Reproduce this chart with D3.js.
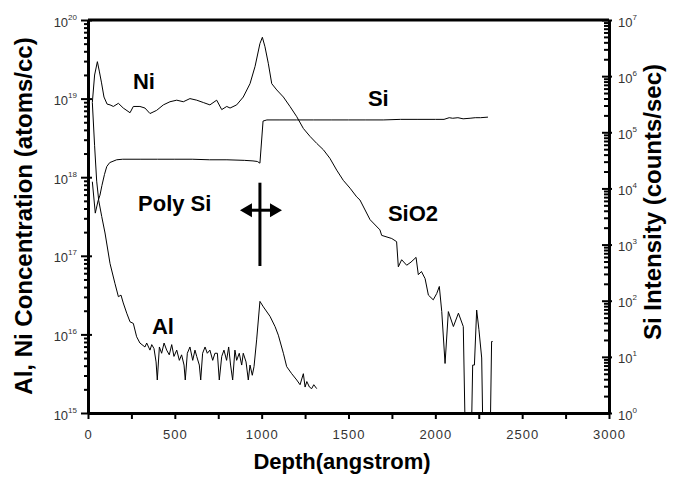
<!DOCTYPE html>
<html>
<head>
<meta charset="utf-8">
<script src="https://cdn.jsdelivr.net/npm/d3@7"></script>
<style>
  body { margin: 0; background: #fff; }
  svg { display: block; font-family: "Liberation Sans", Arial, sans-serif; }
</style>
</head>
<body>
<svg id="chart" width="674" height="477"></svg>
<script>
// depth in angstrom, concentrations / intensities stored as log10 values
// null = zero counts (drawn on the axis floor)
const niDepth = [25, 38, 54, 65, 78, 92, 110, 127, 146, 175, 203, 242, 261, 299, 328, 357, 395, 434, 472, 511,
  549, 587, 626, 664, 702, 741, 770, 799, 818, 856, 894, 933, 962, 990, 1004, 1019, 1038, 1058, 1087, 1125,
  1163, 1202, 1240, 1278, 1317, 1355, 1393, 1432, 1470, 1509, 1547, 1566, 1624, 1681, 1691, 1749, 1777, 1787,
  1806, 1835, 1860, 1889, 1902, 1920, 1941, 1960, 1988, 2008, 2023, 2037, 2056, 2075, 2104, 2133, 2161, 2170,
  2190, 2210, 2215, 2225, 2238, 2251, 2267, 2272, 2300, 2318, 2324, 2330];
const niLog = [18.95, 19.3, 19.47, 19.35, 19.2, 19.02, 18.93, 18.92, 18.90, 18.94, 18.88, 18.82, 18.90, 18.90,
  18.88, 18.81, 18.85, 18.92, 18.96, 18.98, 18.96, 19.00, 18.98, 18.95, 18.92, 18.98, 18.86, 18.90, 18.88, 18.92,
  19.02, 19.19, 19.41, 19.70, 19.78, 19.66, 19.45, 19.19, 19.11, 19.02, 18.90, 18.77, 18.62, 18.52, 18.43, 18.35,
  18.24, 18.09, 17.96, 17.86, 17.75, 17.71, 17.46, 17.33, 17.26, 17.22, 17.18, 16.86, 16.95, 16.88, 16.92, 16.98,
  16.76, 16.80, 16.71, 16.50, 16.44, 16.52, 16.61, 16.29, 15.63, 16.29, 16.10, 16.27, 16.10, null,
  null, null, 15.61, 15.61, 16.31, 16.06, 15.70, null, null, null, 15.91, 15.91];

const alDepth = [25, 38, 50, 62, 79, 98, 127, 155, 175, 190, 203, 223, 242, 261, 280, 299, 328, 338, 357, 367,
  380, 392, 399, 411, 424, 438, 453, 468, 482, 495, 511, 526, 539, 553, 560, 572, 587, 603, 616, 626, 641, 649,
  660, 674, 687, 702, 718, 731, 745, 756, 770, 783, 798, 810, 821, 833, 846, 856, 871, 885, 894, 910, 923, 933,
  946, 956, 971, 990, 1010, 1048, 1077, 1096, 1125, 1144, 1173, 1202, 1221, 1240, 1250, 1260, 1275, 1288, 1300, 1317];
const alLog = [18.95, 18.4, 17.95, 17.7, 17.5, 17.29, 16.90, 16.65, 16.48, 16.50, 16.40, 16.27, 16.16, 16.14,
  15.97, 15.89, 15.84, 15.89, 15.80, 15.87, 15.82, 15.65, 15.42, 15.84, 15.76, 15.89, 15.80, 15.74, 15.87, 15.72,
  15.80, 15.67, 15.74, 15.61, 15.42, 15.76, 15.84, 15.67, 15.80, 15.72, 15.61, 15.42, 15.76, 15.84, 15.76, 15.80,
  15.67, 15.76, 15.76, 15.42, 15.72, 15.80, 15.67, 15.84, 15.61, 15.42, 15.80, 15.67, 15.76, 15.61, 15.76, 15.65,
  15.42, 15.61, 15.48, 15.59, 15.93, 16.42, 16.35, 16.23, 16.10, 15.99, 15.76, 15.59, 15.50, 15.42, 15.36, 15.50,
  15.33, 15.40, 15.33, 15.31, 15.36, 15.31];

const siDepth = [25, 42, 58, 69, 80, 95, 108, 125, 165, 200, 300, 400, 500, 600, 700, 800, 900, 950, 975, 990,
  1008, 1030, 1100, 1200, 1300, 1400, 1500, 1600, 1700, 1800, 1900, 2000, 2050, 2080, 2100, 2130, 2160, 2200,
  2230, 2260, 2303];
const siLog = [4.12, 3.56, 3.78, 3.88, 4.05, 4.25, 4.39, 4.46, 4.51, 4.52, 4.52, 4.52, 4.52, 4.52, 4.51, 4.51,
  4.50, 4.49, 4.48, 4.45, 5.20, 5.22, 5.22, 5.22, 5.22, 5.22, 5.22, 5.22, 5.22, 5.23, 5.23, 5.23, 5.23, 5.26,
  5.25, 5.26, 5.24, 5.25, 5.26, 5.26, 5.27];

const leftDecades = [15, 16, 17, 18, 19, 20];
const rightDecades = [0, 1, 2, 3, 4, 5, 6, 7];
const depthTicks = d3.range(0, 3001, 250);

const svg = d3.select('#chart');
const x = d3.scaleLinear().domain([0, 3000]).range([88, 609]);
const yL = d3.scaleLog().domain([1e15, 1e20]).range([413, 20]);
const yR = d3.scaleLog().domain([1, 1e7]).range([413, 20]);

const pairs = (xs, ys) => xs.map((d, i) => [d, ys[i]]);
const leftLine = d3.line()
  .x((d) => x(d[0]))
  .y((d) => (d[1] == null ? yL.range()[0] : yL(10 ** d[1])));
const rightLine = d3.line()
  .x((d) => x(d[0]))
  .y((d) => yR(10 ** d[1]));

const curves = svg.append('g')
  .attr('fill', 'none')
  .attr('stroke', '#000')
  .attr('stroke-width', 1)
  .attr('stroke-linejoin', 'round');
curves.append('path').attr('d', leftLine(pairs(alDepth, alLog)));
curves.append('path').attr('d', leftLine(pairs(niDepth, niLog)));
curves.append('path').attr('d', rightLine(pairs(siDepth, siLog)));

// minor tick values for log axes
const minorsOf = (decades) => decades.slice(0, -1)
  .flatMap((e) => d3.range(2, 10).map((m) => m * 10 ** e));

const supLabels = (g, size) => {
  g.selectAll('.tick text')
    .attr('dy', 6)
    .attr('fill', '#333')
    .attr('font-size', 13)
    .text(null)
    .call((t) => t.append('tspan').text('10'))
    .append('tspan')
    .attr('dy', -7)
    .attr('font-size', size)
    .text((d) => Math.round(Math.log10(d)));
};

// left axis
svg.append('g')
  .attr('transform', `translate(${x(0)},0)`)
  .call(d3.axisLeft(yL).tickValues(minorsOf(leftDecades)).tickSize(4).tickFormat(''))
  .call((g) => g.select('.domain').remove())
  .call((g) => g.selectAll('.tick line').attr('stroke-width', 2));
svg.append('g')
  .attr('transform', `translate(${x(0)},0)`)
  .call(d3.axisLeft(yL).tickValues(leftDecades.map((e) => 10 ** e)).tickSize(7).tickPadding(4).tickSizeOuter(0))
  .call((g) => g.select('.domain').attr('stroke-width', 3))
  .call((g) => g.selectAll('.tick line').attr('x2', 4).attr('x1', -7).attr('stroke-width', 2))
  .call((g) => supLabels(g, 8));

// right axis
svg.append('g')
  .attr('transform', `translate(${x(3000)},0)`)
  .call(d3.axisRight(yR).tickValues(minorsOf(rightDecades)).tickSize(-5).tickFormat(''))
  .call((g) => g.select('.domain').remove())
  .call((g) => g.selectAll('.tick line').attr('stroke-width', 2));
svg.append('g')
  .attr('transform', `translate(${x(3000)},0)`)
  .call(d3.axisRight(yR).tickValues(rightDecades.map((e) => 10 ** e)).tickSize(-7).tickPadding(9).tickSizeOuter(0))
  .call((g) => g.select('.domain').attr('stroke-width', 3))
  .call((g) => g.selectAll('.tick line').attr('x1', 3).attr('stroke-width', 2))
  .call((g) => supLabels(g, 8));

// bottom axis
svg.append('g')
  .attr('transform', `translate(0,${yL.range()[0]})`)
  .call(d3.axisBottom(x).tickValues(depthTicks).tickSize(6).tickSizeOuter(0)
    .tickFormat((d) => (d % 500 === 0 ? d : '')))
  .call((g) => g.select('.domain').attr('stroke-width', 3))
  .call((g) => g.selectAll('.tick line').attr('stroke-width', 2))
  .call((g) => g.selectAll('.tick text')
    .attr('y', 17)
    .attr('fill', '#333')
    .attr('font-size', 13)
    .attr('letter-spacing', 1));

// top frame line
svg.append('line')
  .attr('x1', x.range()[0]).attr('x2', x.range()[1])
  .attr('y1', yL.range()[1]).attr('y2', yL.range()[1])
  .attr('stroke', '#000').attr('stroke-width', 3);

// axis titles
svg.append('text')
  .attr('x', 342).attr('y', 469)
  .attr('text-anchor', 'middle')
  .attr('font-size', 22).attr('font-weight', 'bold')
  .text('Depth(angstrom)');
svg.append('text')
  .attr('transform', 'translate(32,216) rotate(-90)')
  .attr('text-anchor', 'middle')
  .attr('font-size', 24).attr('font-weight', 'bold')
  .text('Al, Ni Concentration (atoms/cc)');
svg.append('text')
  .attr('transform', 'translate(661,202) rotate(-90)')
  .attr('text-anchor', 'middle')
  .attr('font-size', 24).attr('font-weight', 'bold')
  .text('Si Intensity (counts/sec)');

// in-plot labels (depth, log10 concentration of baseline)
const notes = [
  ['Ni', 259, 19.12],
  ['Si', 1612, 18.91],
  ['Poly Si', 288, 17.57],
  ['SiO2', 1727, 17.44],
  ['Al', 368, 16.0],
];
svg.append('g')
  .attr('font-size', 22).attr('font-weight', 'bold')
  .selectAll('text')
  .data(notes)
  .join('text')
  .attr('x', (d) => x(d[1]))
  .attr('y', (d) => yL(10 ** d[2]))
  .text((d) => d[0]);

// interface marker: vertical bar with double-headed arrow
const mx = x(990);
const ay = yL(10 ** 17.58);
const ax0 = x(875);
const ax1 = x(1117);
const marker = svg.append('g').attr('fill', '#000').attr('stroke', '#000');
marker.append('line')
  .attr('x1', mx).attr('x2', mx)
  .attr('y1', yL(10 ** 17.93)).attr('y2', yL(10 ** 16.87))
  .attr('stroke-width', 3);
marker.append('line')
  .attr('x1', ax0 + 8).attr('x2', ax1 - 8)
  .attr('y1', ay).attr('y2', ay)
  .attr('stroke-width', 3);
marker.append('path')
  .attr('stroke', 'none')
  .attr('d', `M${ax0},${ay}L${ax0 + 12},${ay - 7}L${ax0 + 12},${ay + 7}Z`
    + `M${ax1},${ay}L${ax1 - 12},${ay - 7}L${ax1 - 12},${ay + 7}Z`);
</script>
</body>
</html>
